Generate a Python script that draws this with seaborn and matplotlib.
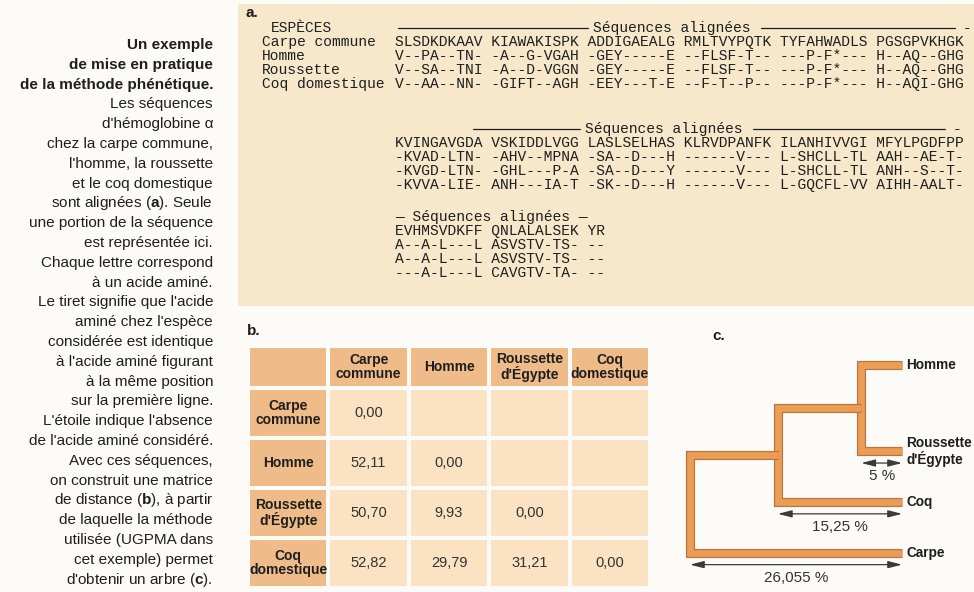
import numpy as np
import pandas as pd
import matplotlib
matplotlib.use("Agg")
import matplotlib.pyplot as plt
import matplotlib.patheffects as pe
from matplotlib.colors import ListedColormap
from matplotlib.patches import Rectangle
import seaborn as sns

# ---------------- data ----------------
caption_title = ["Un exemple", "de mise en pratique", "de la méthode phénétique."]
caption_body = [
    "Les séquences",
    "d'hémoglobine α",
    "chez la carpe commune,",
    "l'homme, la roussette",
    "et le coq domestique",
    r"sont alignées ($\mathbf{a}$). Seule",
    "une portion de la séquence",
    "est représentée ici.",
    "Chaque lettre correspond",
    "à un acide aminé.",
    "Le tiret signifie que l'acide",
    "aminé chez l'espèce",
    "considérée est identique",
    "à l'acide aminé figurant",
    "à la même position",
    "sur la première ligne.",
    "L'étoile indique l'absence",
    "de l'acide aminé considéré.",
    "Avec ces séquences,",
    "on construit une matrice",
    r"de distance ($\mathbf{b}$), à partir",
    "de laquelle la méthode",
    "utilisée (UGPMA dans",
    "cet exemple) permet",
    r"d'obtenir un arbre ($\mathbf{c}$).",
]

align_species = ["Carpe commune", "Homme", "Roussette", "Coq domestique"]
align_block1 = [
    "SLSDKDKAAV KIAWAKISPK ADDIGAEALG RMLTVYPQTK TYFAHWADLS PGSGPVKHGK",
    "V--PA--TN- -A--G-VGAH -GEY-----E --FLSF-T-- ---P-F*--- H--AQ--GHG",
    "V--SA--TNI -A--D-VGGN -GEY-----E --FLSF-T-- ---P-F*--- H--AQ--GHG",
    "V--AA--NN- -GIFT--AGH -EEY---T-E --F-T--P-- ---P-F*--- H--AQI-GHG",
]
align_block2 = [
    "KVINGAVGDA VSKIDDLVGG LASLSELHAS KLRVDPANFK ILANHIVVGI MFYLPGDFPP",
    "-KVAD-LTN- -AHV--MPNA -SA--D---H ------V--- L-SHCLL-TL AAH--AE-T-",
    "-KVGD-LTN- -GHL---P-A -SA--D---Y ------V--- L-SHCLL-TL ANH--S--T-",
    "-KVVA-LIE- ANH---IA-T -SK--D---H ------V--- L-GQCFL-VV AIHH-AALT-",
]
align_block3 = [
    "EVHMSVDKFF QNLALALSEK YR",
    "A--A-L---L ASVSTV-TS- --",
    "A--A-L---L ASVSTV-TS- --",
    "---A-L---L CAVGTV-TA- --",
]

table_species = ["Carpe\ncommune", "Homme", "Roussette\nd'Égypte", "Coq\ndomestique"]
distance_rows = [
    [0.00],
    [52.11, 0.00],
    [50.70, 9.93, 0.00],
    [52.82, 29.79, 31.21, 0.00],
]

tree_leaves = ["Homme", "Roussette\nd'Égypte", "Coq", "Carpe"]
tree_heights = [5, 15.25, 26.055]   # % divergence at each node, tips outward

# ---------------- style ----------------
PAGE = "#fcfbf8"
BEIGE = "#f7e8cc"
HEAD = "#efbc89"
BODY = "#fae2c3"
INK = "#1e1e1e"
ORANGE = "#eb9d58"
EDGE = "#bf7537"
SANS = "Liberation Sans"
MONO = "Liberation Mono"

sns.set_theme(style="white")
plt.rcParams["font.family"] = [SANS, "DejaVu Sans"]
plt.rcParams["mathtext.fontset"] = "custom"
plt.rcParams["mathtext.rm"] = SANS
plt.rcParams["mathtext.bf"] = SANS + ":bold"

W, H = 974, 592
fig = plt.figure(figsize=(W / 100, H / 100), dpi=100)
fig.patch.set_facecolor(PAGE)

ax = fig.add_axes([0, 0, 1, 1])
ax.set_xlim(0, W)
ax.set_ylim(H, 0)
ax.axis("off")


def fig_box(x0, y0, x1, y1):
    return [x0 / W, 1 - y1 / H, (x1 - x0) / W, (y1 - y0) / H]


# ---- caption column ----
cap_lines = caption_title + caption_body
for i, line in enumerate(cap_lines):
    ax.text(213, 45 + i * 19.8, line, ha="right", va="center", fontsize=11,
            color=INK, fontweight="bold" if i < len(caption_title) else "normal")

# ---- panel a : aligned sequences ----
ax.add_patch(Rectangle((238, 4), W - 238 + 5, 302, facecolor=BEIGE, edgecolor="none"))
ax.text(246, 13, "a.", fontsize=11, fontweight="bold", color=INK, va="center")
mono = dict(family=MONO, fontsize=10.5, color=INK, va="center")
row_h = 14
seq_x = 395


def header_rule(y, left, text_x, right):
    ax.plot([left, text_x - 5], [y, y], color=INK, lw=0.9)
    ax.text(text_x, y, "Séquences alignées", **mono)
    ax.plot([text_x + 168, right], [y, y], color=INK, lw=0.9)
    ax.text(right + 8, y, "-", **mono)


ax.text(271, 28, "ESPÈCES", **mono)
header_rule(28, 398, 593, 955)
for k, (sp, seq) in enumerate(zip(align_species, align_block1)):
    ax.text(262, 42 + k * row_h, sp, **mono)
    ax.text(seq_x, 42 + k * row_h, seq, **mono)

header_rule(129, 473, 585, 945)
for k, seq in enumerate(align_block2):
    ax.text(seq_x, 143 + k * row_h, seq, **mono)

ax.text(seq_x, 217, "— Séquences alignées —", **mono)
for k, seq in enumerate(align_block3):
    ax.text(seq_x, 231 + k * row_h, seq, **mono)

# ---- panel b : distance matrix (header row + body) ----
ax.text(247, 331, "b.", fontsize=11, fontweight="bold", color=INK, va="center")
n = len(table_species)
cell_cmap = ListedColormap([BODY, HEAD])
grid_kw = dict(cmap=cell_cmap, vmin=0, vmax=1, cbar=False, linewidths=2.6,
               linecolor=PAGE, xticklabels=False, yticklabels=False)

ax_h = fig.add_axes(fig_box(248, 346, 650, 388))
sns.heatmap(np.ones((1, n + 1)), ax=ax_h, **grid_kw)

body_kind = np.zeros((n, n + 1))
body_kind[:, 0] = 1
ax_b = fig.add_axes(fig_box(248, 388, 650, 588))
sns.heatmap(body_kind, ax=ax_b, **grid_kw)

head_kw = dict(ha="center", va="center", fontsize=10, fontweight="bold",
               color=INK, linespacing=1.0)
for j, name in enumerate(table_species):
    ax_h.text(j + 1.5, 0.5, name, **head_kw)
    ax_b.text(0.5, j + 0.5, name, **head_kw)
for i, row in enumerate(distance_rows):
    for j, v in enumerate(row):
        ax_b.text(j + 1.5, i + 0.5, f"{v:.2f}".replace(".", ","), ha="center",
                  va="center", fontsize=10.5, color="#333333")

# ---- panel c : UPGMA tree ----
ax.text(712, 336, "c.", fontsize=11, fontweight="bold", color=INK, va="center")
leaf_slots = [0, 1.7, 2.7, 3.7]          # vertical slots of the leaves
slot_px = 50.8
ax_c = fig.add_axes(fig_box(690, 355, 902, 590))
ax_c.set_xlim(max(tree_heights), 0)
ax_c.set_ylim((590 - 365) / slot_px, -(365 - 355) / slot_px)
ax_c.axis("off")

segs = []
child_x, child_y = 0.0, leaf_slots[0]
for k, h in enumerate(tree_heights):
    y_low = leaf_slots[k + 1]
    pts = [(child_x, child_y), (h, child_y), (h, y_low), (0.0, y_low)]
    for order, (x, y) in enumerate(pts):
        segs.append({"seg": k, "order": order, "x": x, "y": y})
    child_x, child_y = h, (child_y + y_low) / 2
segs = pd.DataFrame(segs)

sns.lineplot(data=segs, x="x", y="y", units="seg", estimator=None, sort=False,
             color=ORANGE, lw=4.8, legend=False, ax=ax_c)
for ln in ax_c.lines:
    ln.set_clip_on(False)
    ln.set_solid_joinstyle("miter")
    ln.set_solid_capstyle("butt")
    ln.set_path_effects([pe.Stroke(linewidth=6.6, foreground=EDGE), pe.Normal()])
ax_c.set_xlabel("")
ax_c.set_ylabel("")

for k, h in enumerate(tree_heights):
    y = leaf_slots[k + 1] + 0.23
    ax_c.annotate("", xy=(0, y), xytext=(h, y), annotation_clip=False,
                  arrowprops=dict(arrowstyle="<|-|>,head_length=0.7,head_width=0.18",
                                  color="#3a3a3a", lw=0.9, shrinkA=0, shrinkB=0))
    ax_c.text(h / 2, y + 0.26, f"{h:g} %".replace(".", ","), ha="center",
              va="center", fontsize=11, color="#333333", clip_on=False)

for name, s in zip(tree_leaves, leaf_slots):
    ax_c.annotate(name, xy=(0, s), xytext=(3, 0), textcoords="offset points",
                  ha="left", va="center", fontsize=9.8, fontweight="bold",
                  color=INK, linespacing=1.05, annotation_clip=False)

fig.savefig("out.png", dpi=100, facecolor=PAGE)
